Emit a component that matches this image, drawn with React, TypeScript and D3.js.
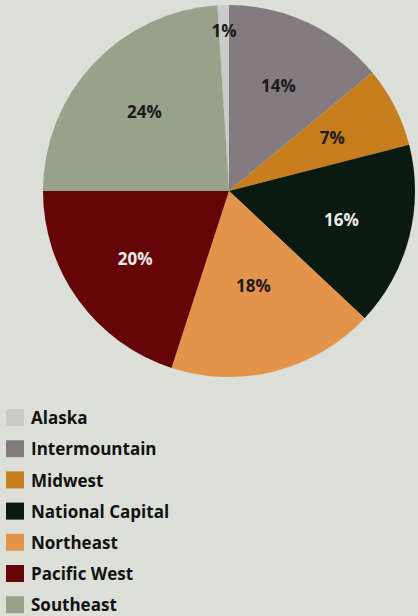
import React from "react";
import * as d3 from "d3";

const categories = ["Alaska", "Intermountain", "Midwest", "National Capital", "Northeast", "Pacific West", "Southeast"];
const values = [1, 14, 7, 16, 18, 20, 24];
const colors = ["#c9cbc6", "#847b80", "#c77d1c", "#0b1a10", "#e3944a", "#650507", "#98a18a"];
const labelColors = ["#1a1a1a", "#1a1a1a", "#1a1a1a", "#ececec", "#1a1a1a", "#ececec", "#1a1a1a"];

const W = 418;
const H = 616;
const cx = 229;
const cy = 191;
const R = 186;
const FONT = "'Open Sans', 'Noto Sans', sans-serif";

export default function App() {
  const start = -2 * Math.PI * (values[0] / d3.sum(values));
  const pie = d3.pie<number>().sort(null).value((d) => d).startAngle(start).endAngle(start + 2 * Math.PI);
  const arcs = pie(values);
  const arc = d3.arc<d3.PieArcDatum<number>>().innerRadius(0).outerRadius(R);
  const labelR = (i: number) => (i === 0 ? 160 : i === 4 ? 98 : 116);

  return (
    <svg width={W} height={H} style={{ position: "absolute", left: 0, top: 0, background: "#dcdfd8" }}>
      <rect width={W} height={H} fill="#dcdfd8" />
      <g transform={`translate(${cx},${cy})`}>
        {arcs.map((a, i) => (
          <path key={categories[i]} d={arc(a) || ""} fill={colors[i]} />
        ))}
        {arcs.map((a, i) => {
          const la = d3.arc<d3.PieArcDatum<number>>().innerRadius(labelR(i)).outerRadius(labelR(i));
          const [x, y] = la.centroid(a);
          return (
            <text key={"l" + i} x={x} y={y} dy="0.35em" textAnchor="middle" fill={labelColors[i]}
              fontFamily={FONT} fontWeight={700} fontSize={17}>
              {`${values[i]}%`}
            </text>
          );
        })}
      </g>
      <g>
        {categories.map((c, i) => (
          <g key={c} transform={`translate(6, ${418 + i * 31.2})`}>
            <rect x={0} y={-9} width={18} height={17} fill={colors[i]} />
            <text x={25} y={0} dy="0.36em" fill="#111" fontFamily={FONT} fontWeight={700} fontSize={17}>
              {c}
            </text>
          </g>
        ))}
      </g>
    </svg>
  );
}
